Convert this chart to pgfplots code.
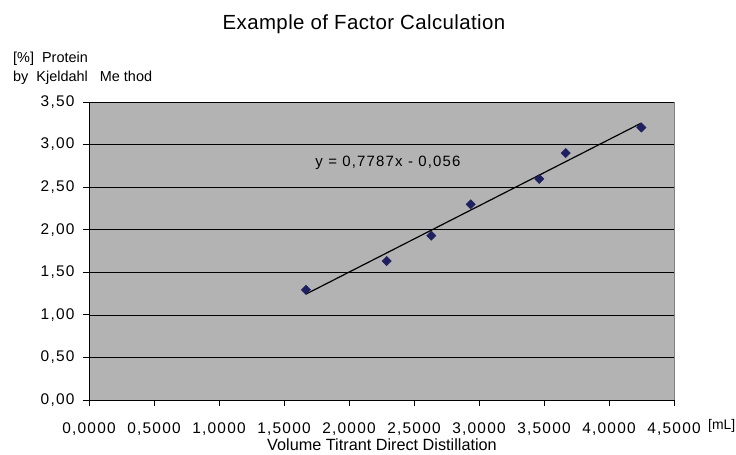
\documentclass[border=0pt]{standalone}
\usepackage{fontspec}
\setmainfont{Liberation Sans}
\newfontfamily\spaced[LetterSpace=8]{Liberation Sans}
\newfontfamily\titlefont[LetterSpace=2]{Liberation Sans}
\usepackage{pgfplots}
\pgfplotsset{compat=1.18}
\definecolor{plotgray}{HTML}{B3B3B3}
\definecolor{bordergray}{HTML}{808080}
\definecolor{navy}{HTML}{1F2060}
\begin{document}
\begin{tikzpicture}
\path[use as bounding box] (-89bp,-55bp) rectangle (647bp,400bp);
\begin{axis}[
  scale only axis,
  width=585bp, height=298bp,
  xmin=0, xmax=4.5, ymin=0, ymax=3.5,
  xtick={0,0.5,...,4.5},
  ytick={0,0.5,...,3.5},
  axis x line*=bottom, axis y line*=left,
  axis line style={-, black, line width=0.9pt},
  axis background/.style={fill=plotgray, draw=bordergray, line width=0.9pt},
  ymajorgrids, grid style={black, line width=0.7pt},
  tick align=outside, major tick length=6bp,
  tick style={black, line width=0.8pt},
  ticklabel style={font=\spaced\fontsize{15.5}{18}\selectfont},
  /pgf/number format/assume math mode=true,
  xticklabel style={/pgf/number format/.cd, fixed, fixed zerofill, precision=4, use comma, 1000 sep={}},
  yticklabel style={/pgf/number format/.cd, fixed, fixed zerofill, precision=2, use comma, 1000 sep={}},
  xticklabel shift=13bp, yticklabel shift=5bp,
  clip=false,
]
\addplot[black, line width=1.2pt, no marks] coordinates {(1.669,1.2437) (4.249,3.2528)};
\addplot[only marks, mark=square*, mark size=3.3bp, mark options={rotate=45, fill=navy, draw=navy}] coordinates {
  (1.669,1.294) (2.290,1.632) (2.633,1.930) (2.936,2.298) (3.464,2.596) (3.667,2.900) (4.249,3.200)
};
\node[font=\spaced\fontsize{15}{18}\selectfont] at (axis cs:2.30,2.79) {y = 0,7787x - 0,056};
\end{axis}
\node[font=\titlefont\fontsize{20.5}{24}\selectfont] at (275bp,376bp) {Example of Factor Calculation};
\node[font=\fontsize{16.3}{19}\selectfont] at (293bp,-45bp) {Volume Titrant Direct Distillation};
\node[font=\fontsize{14}{16}\selectfont, anchor=west, inner sep=0pt] at (619bp,-26bp) {[mL]};
\node[font=\fontsize{14.5}{19}\selectfont, anchor=north west, align=left, inner sep=0pt] at (-76bp,348bp) {[\%]\ \ Protein\\by\ \ Kjeldahl\ \ \ Me thod};
\end{tikzpicture}
\end{document}
